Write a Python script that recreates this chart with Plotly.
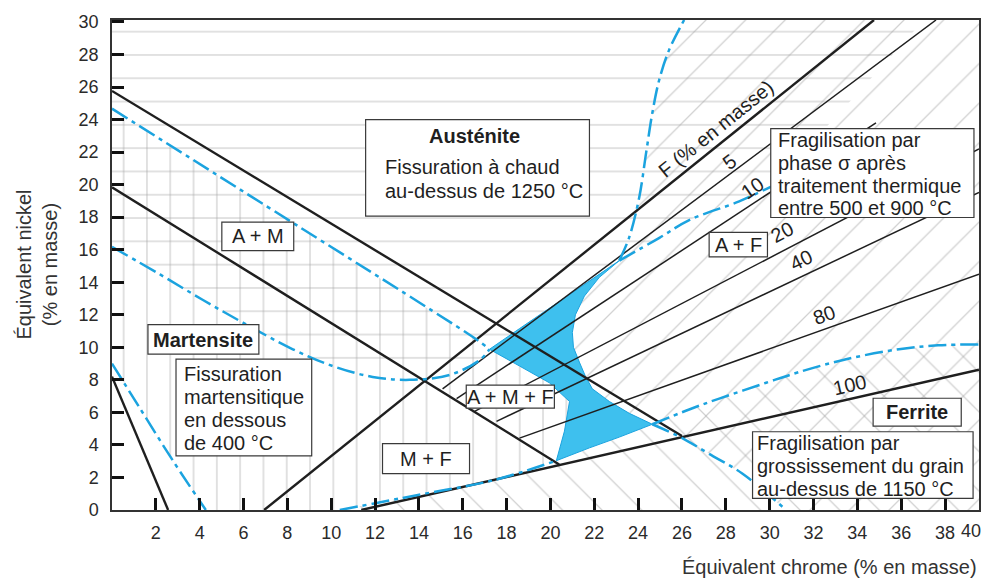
import plotly.graph_objects as go

FONT = "Liberation Sans, Arial, Helvetica, sans-serif"
INK = "#1f1f1f"
BLUE = "#1ba3df"
BLUE_FILL = "#3ec0ee"
HATCH = "#a4a4a4"

X_END = 39.55
Y_END = 30.12

# ---- ticks ----
x_ticks = list(range(2, 39, 2))
x_tick_text = [str(v) for v in x_ticks]
y_ticks = list(range(0, 31, 2))
y_tick_text = [str(v) for v in y_ticks]

# ---- straight phase boundaries (Cr eq, Ni eq) ----
bound_a_am_x = [0.0, 26.0]
bound_a_am_y = [25.76, 4.55]
bound_am_mf_x = [0.0, 20.4]
bound_am_mf_y = [19.84, 2.80]
bound_m_x = [0.0, 2.56]
bound_m_y = [8.2, 0.0]

# ---- iso-ferrite lines (start / end) ----
ferrite_pct = [0, 5, 10, 20, 40, 80, 100]
ferrite_x0 = [6.94, 15.08, 15.72, 16.54, 17.54, 18.59, 11.37]
ferrite_y0 = [0.0, 7.45, 6.85, 6.06, 5.45, 4.42, 0.0]
ferrite_x1 = [34.76, 37.59, 34.85, 39.55, 39.55, 39.55, 39.55]
ferrite_y1 = [30.12, 30.12, 23.8, 22.2, 19.52, 14.5, 8.62]

# ---- Bystram zone limits (dash-dot) ----
mart_top_x = [0.0, 8.56, 14.62, 16.63, 17.22]
mart_top_y = [24.67, 17.39, 12.24, 10.48, 9.88]
hot_low_x = [0.0, 2.19, 4.15, 5.97, 8.25, 10.07, 11.89, 13.58, 15.40, 16.77, 17.22]
hot_low_y = [16.18, 14.48, 12.91, 11.52, 9.88, 8.85, 8.18, 8.0, 8.30, 9.21, 9.88]
mart_left_x = [0.0, 1.28, 2.78, 4.28]
mart_left_y = [9.0, 6.24, 3.03, 0.0]
grain_low_x = [10.39, 13.9, 17.37, 20.27]
grain_low_y = [0.0, 0.91, 1.82, 3.03]
grain_top_x = [24.65, 26.33, 27.70, 29.84, 31.34, 33.49, 35.90, 37.68, 39.55]
grain_top_y = [5.27, 6.18, 6.85, 7.82, 8.48, 9.27, 9.88, 10.12, 10.18]
sigma_low_x = [24.65, 26.01, 27.24, 28.75, 30.75]
sigma_low_y = [5.27, 4.42, 3.45, 2.24, 0.0]
sigma_top_x = [23.14, 23.60, 24.05, 24.37, 24.65, 24.97, 25.42, 26.10]
sigma_top_y = [15.33, 16.79, 19.21, 22.0, 24.42, 26.48, 28.3, 30.12]
hot_right_x = [23.14, 24.97, 26.33, 28.61, 30.07]
hot_right_y = [15.33, 16.73, 17.82, 18.97, 19.88]
hot_hatch_end_x = [37.04, 33.53]
hot_hatch_end_y = [30.12, 24.91]

# ---- safe zone outline ----
safe_upper_x = [23.14, 21.78, 20.18, 18.59, 17.22]
safe_upper_y = [15.33, 14.06, 12.61, 11.15, 9.88]
safe_left_x = [17.22, 18.59, 19.95, 20.87, 20.64, 20.27]
safe_left_y = [9.88, 8.85, 7.82, 6.67, 4.85, 3.03]
safe_bottom_x = [20.27, 21.78, 23.14, 24.65]
safe_bottom_y = [3.03, 3.82, 4.48, 5.27]
safe_inner_x = [24.65, 23.60, 22.69, 21.91, 21.59, 21.32, 21.05, 21.0, 21.14, 21.55, 22.23, 23.14]
safe_inner_y = [5.27, 5.94, 6.67, 7.45, 8.24, 9.09, 10.0, 10.91, 12.0, 13.15, 14.30, 15.33]

fig = go.Figure()


def hatch(xs, ys, shape, size):
    fig.add_trace(go.Scatter(
        x=xs, y=ys, mode="lines", fill="toself",
        fillcolor="rgba(0,0,0,0)", line=dict(width=0),
        fillpattern=dict(shape=shape, size=size, solidity=1.3 / size,
                         fgcolor=HATCH, bgcolor="rgba(0,0,0,0)",
                         fillmode="overlay"),
        hoverinfo="skip", showlegend=False))


# hot cracking zone: horizontal hatching
hx = [0.0] + hot_hatch_end_x + hot_right_x[::-1] + safe_upper_x[1:] + hot_low_x[::-1][1:]
hy = [Y_END] + hot_hatch_end_y + hot_right_y[::-1] + safe_upper_y[1:] + hot_low_y[::-1][1:]
hatch(hx, hy, "-", 23.3)

# martensite cracking zone: vertical hatching
mx = mart_top_x + safe_left_x[1:] + grain_low_x[::-1][1:] + mart_left_x[::-1]
my = mart_top_y + safe_left_y[1:] + grain_low_y[::-1][1:] + mart_left_y[::-1]
hatch(mx, my, "|", 23.3)

# grain growth zone
gx = grain_low_x + safe_bottom_x[1:] + grain_top_x[1:] + [X_END]
gy = grain_low_y + safe_bottom_y[1:] + grain_top_y[1:] + [0.0]
hatch(gx, gy, "\\", 28)

# sigma phase zone
sx = sigma_top_x[::-1] + safe_inner_x[::-1][1:] + sigma_low_x[1:] + [X_END, X_END]
sy = sigma_top_y[::-1] + safe_inner_y[::-1][1:] + sigma_low_y[1:] + [0.0, Y_END]
hatch(sx, sy, "/", 28)

# safe zone
fx = safe_upper_x + safe_left_x[1:] + safe_bottom_x[1:] + safe_inner_x[1:]
fy = safe_upper_y + safe_left_y[1:] + safe_bottom_y[1:] + safe_inner_y[1:]
fig.add_trace(go.Scatter(x=fx, y=fy, mode="lines", fill="toself",
                         fillcolor=BLUE_FILL, line=dict(color=BLUE, width=1),
                         hoverinfo="skip", showlegend=False))


def joined(segments):
    xs, ys = [], []
    for sx_, sy_ in segments:
        xs += list(sx_) + [None]
        ys += list(sy_) + [None]
    return xs, ys


thick = [(bound_a_am_x, bound_a_am_y), (bound_am_mf_x, bound_am_mf_y), (bound_m_x, bound_m_y)]
thin = []
for p, x0, y0, x1, y1 in zip(ferrite_pct, ferrite_x0, ferrite_y0, ferrite_x1, ferrite_y1):
    (thick if p in (0, 100) else thin).append(([x0, x1], [y0, y1]))

tx, ty = joined(thin)
fig.add_trace(go.Scatter(x=tx, y=ty, mode="lines", line=dict(color=INK, width=1.5),
                         hoverinfo="skip", showlegend=False))
kx, ky = joined(thick)
fig.add_trace(go.Scatter(x=kx, y=ky, mode="lines", line=dict(color=INK, width=2.4),
                         hoverinfo="skip", showlegend=False))

blue_curves = [(mart_top_x, mart_top_y), (hot_low_x, hot_low_y), (mart_left_x, mart_left_y),
               (grain_low_x, grain_low_y), (grain_top_x, grain_top_y),
               (sigma_low_x, sigma_low_y), (sigma_top_x, sigma_top_y),
               (hot_right_x, hot_right_y)]
for cx, cy in blue_curves:
    fig.add_trace(go.Scatter(x=cx, y=cy, mode="lines", line_shape="spline",
                             line=dict(color=BLUE, width=2.5, dash="18px,5px,4px,5px"),
                             hoverinfo="skip", showlegend=False))

shapes = []
annotations = []


def box(x0, y0, x1, y1):
    shapes.append(dict(type="rect", xref="x", yref="y", x0=x0, y0=y0, x1=x1, y1=y1,
                       fillcolor="white", line=dict(color="#3a3a3a", width=1.2),
                       layer="above"))


def text(x, y, s, anchor="center", bold=False, angle=0, size=20):
    annotations.append(dict(x=x, y=y, xref="x", yref="y", text=f"<b>{s}</b>" if bold else s,
                            showarrow=False, xanchor=anchor, yanchor="middle",
                            textangle=angle,
                            font=dict(family=FONT, size=size, color=INK)))


# Austenite box
box(11.57, 18.06, 21.78, 24.0)
text(16.54, 22.97, "Austénite", bold=True)
text(12.35, 21.09, "Fissuration à chaud", anchor="left")
text(12.35, 19.58, "au-dessus de 1250 °C", anchor="left")

box(5.01, 15.94, 8.29, 17.70)
text(6.65, 16.82, "A + M")

box(1.64, 9.58, 6.70, 11.39)
text(4.17, 10.48, "Martensite", bold=True)

box(2.92, 3.33, 9.11, 9.27)
for yy, s in zip([8.38, 6.97, 5.56, 4.14],
                 ["Fissuration", "martensitique", "en dessous", "de 400 °C"]):
    text(3.19, yy, s, anchor="left")

box(12.34, 2.24, 16.31, 4.08)
text(14.33, 3.15, "M + F")

box(16.16, 6.26, 20.18, 7.68)
text(18.18, 6.97, "A + M + F")

box(27.24, 15.56, 29.90, 17.07)
text(28.56, 16.30, "A + F")

box(30.05, 17.98, 39.32, 23.44)
for yy, s in zip([22.73, 21.31, 19.90, 18.59],
                 ["Fragilisation par", "phase σ après", "traitement thermique",
                  "entre 500 et 900 °C"]):
    text(30.28, yy, s, anchor="left")

box(34.72, 5.15, 38.74, 6.87)
text(36.72, 6.0, "Ferrite", bold=True)

box(29.22, 0.71, 39.28, 4.81)
for yy, s in zip([4.14, 2.73, 1.32],
                 ["Fragilisation par", "grossissement du grain", "au-dessus de 1150 °C"]):
    text(29.34, yy, s, anchor="left")

# iso-ferrite labels
text(27.52, 23.45, "F (% en masse)", angle=-39)
text(28.16, 21.39, "5", angle=-37)
text(29.2, 19.82, "10", angle=-35)
text(30.57, 17.09, "20", angle=-28)
text(31.44, 15.39, "40", angle=-26)
text(32.48, 12.0, "80", angle=-20)
text(33.62, 7.70, "100", angle=-13)

# last x tick label sits at the frame edge
annotations.append(dict(x=39.2, y=-0.043, xref="x", yref="paper", text="40", showarrow=False,
                        xanchor="center", yanchor="middle",
                        font=dict(family=FONT, size=18, color="#2a2a2a")))

# axis titles
annotations.append(dict(x=1.0, y=-0.117, xref="paper", yref="paper",
                        text="Équivalent chrome (% en masse)", showarrow=False,
                        xanchor="right", yanchor="middle",
                        font=dict(family=FONT, size=20, color="#333")))
annotations.append(dict(x=-0.087, y=0.5, xref="paper", yref="paper",
                        text="Équivalent nickel<br>(% en masse)", showarrow=False,
                        xanchor="center", yanchor="middle", textangle=-90,
                        font=dict(family=FONT, size=20, color="#333")))

axis_common = dict(ticks="inside", ticklen=12, tickwidth=3, tickcolor="#111",
                   showgrid=False, zeroline=False, showline=True, linecolor="#333",
                   linewidth=1.5, mirror=True,
                   tickfont=dict(family=FONT, size=18, color="#2a2a2a"))

fig.update_layout(
    width=993, height=581,
    margin=dict(l=112, r=13, t=13, b=71),
    paper_bgcolor="white", plot_bgcolor="white",
    xaxis=dict(range=[0, X_END], tickvals=x_ticks, ticktext=x_tick_text,
               ticklabelstandoff=6, **axis_common),
    yaxis=dict(range=[0, Y_END], tickvals=y_ticks, ticktext=y_tick_text,
               ticklabelstandoff=8, **axis_common),
    shapes=shapes, annotations=annotations, showlegend=False,
)

fig.write_html("out.html")
